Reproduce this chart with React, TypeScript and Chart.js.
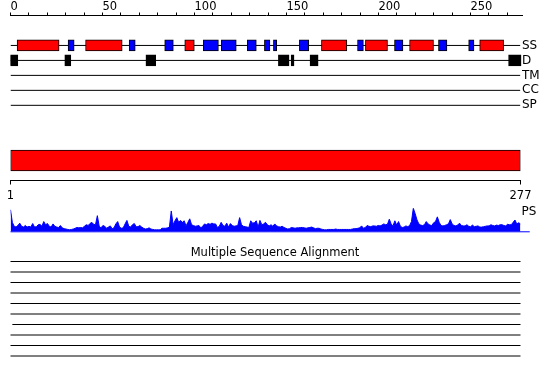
import React, { useEffect, useRef } from 'react';
import { Chart, registerables } from 'chart.js';

Chart.register(...registerables);

const FONT_FAMILY = "'DejaVu Sans', sans-serif";

// ---------------- Data ----------------
const trackNames = ['SS', 'D', 'TM', 'CC', 'SP'];
const seqLength = 277;
const topAxisMax = 278;
const topTicks = [0, 10, 20, 30, 40, 50, 60, 70, 80, 90, 100, 110, 120, 130, 140, 150, 160, 170, 180, 190, 200, 210, 220, 230, 240, 250, 260, 270];
const topLabels = [0, 50, 100, 150, 200, 250];

// secondary structure: helices (red) and strands (blue)
const helixStart = [3.6, 40.8, 94.7, 169.0, 192.9, 216.9, 255.0];
const helixEnd = [26.4, 60.7, 99.9, 182.8, 204.9, 229.9, 268.0];
const strandStart = [31.3, 64.5, 83.8, 104.8, 114.6, 128.7, 138.0, 142.9, 157.0, 188.6, 208.7, 232.6, 249.0];
const strandEnd = [34.6, 67.8, 88.5, 113.0, 122.7, 133.6, 141.0, 144.7, 162.1, 191.8, 213.3, 237.2, 251.9];
// disorder (black)
const disorderStart = [-0.3, 29.5, 73.6, 145.6, 152.5, 162.8, 270.7];
const disorderEnd = [4.0, 32.8, 78.9, 151.4, 154.1, 167.2, 277.5];

// domain bar and its ruler
const domainStart = [1];
const domainEnd = [277];
const rulerTicks = [1, 277];

// PS profile (one value per residue)
const psScores = [
  28, 12, 7, 6, 8, 11, 7, 6, 8, 6,
  7, 6, 10.5, 6, 6.5, 9, 9.5, 7, 13, 9,
  10.5, 7, 6, 10, 7, 6, 5.5, 8, 5, 4,
  3.5, 3, 2.5, 3, 3.5, 4.5, 5.5, 5, 5.5, 5,
  7, 9, 8, 10.5, 12, 9.5, 9, 20.5, 7, 5,
  8, 7, 4.5, 6, 7.5, 4, 5, 10, 13, 6,
  4.5, 5, 10, 14.5, 7, 6, 9, 10.5, 6.5, 6.5,
  8, 6, 4.5, 3.5, 4, 5, 3.5, 3, 2.5, 2.5,
  2.5, 2.5, 4.5, 4.5, 4.5, 5, 6, 26.5, 9, 14,
  18, 12, 14.5, 12, 14, 7.5, 12, 16.5, 9, 8,
  7, 7.5, 8, 5, 7, 10, 9, 10.5, 9.5, 11,
  10, 10, 5.5, 7, 12, 8, 7, 11, 6, 10.5,
  8, 7, 7.5, 8, 18, 9, 7, 6.5, 6, 5.5,
  14, 11, 11.5, 14, 6, 14.5, 9, 10, 12, 9,
  7.5, 9, 7, 10, 7.5, 6.5, 6, 7, 5.5, 4.5,
  3.5, 4, 5.5, 5, 4.5, 5, 5, 5.5, 5.5, 5,
  4.5, 5, 5.5, 6, 5, 4, 4.5, 4.5, 3.5, 3,
  2.5, 2.5, 3, 3, 3, 3, 3.5, 3, 3, 3,
  3, 3, 3, 3, 3, 3.5, 4, 4, 4.5, 5,
  7.5, 4.5, 5.5, 8, 7, 6.5, 7.5, 7.5, 7, 8,
  7.5, 8.5, 10, 9, 9.5, 16, 10, 7.5, 14, 8.5,
  13, 7, 5.5, 6, 7.5, 6.5, 8, 13, 30, 23,
  15, 10, 8.5, 8, 9, 13, 10, 8.5, 8, 11.5,
  13, 19, 12, 8, 7.5, 8, 9, 10, 15.5, 10,
  8, 7.5, 8.5, 11, 8, 7.5, 7.5, 9, 7, 6.5,
  8.5, 6.5, 7, 7.5, 6, 6, 6.5, 7, 7.5, 7.5,
  9, 8, 7.5, 8.5, 8, 9, 9, 8, 7.5, 9.5,
  9, 9, 12, 15, 10, 11.5, 10,
];
const psMax = 30;
const psLabelValue = 25;
const psBaselineX = [1, 282];

// multiple sequence alignment rows
const msaTitle = 'Multiple Sequence Alignment';
const msaStart = [1, 1, 1, 1, 1, 1, 2, 1, 1, 1];
const msaEnd = [277, 277, 277, 277, 277, 277, 277, 277, 277, 277];

// ---------------- Component ----------------
export default function App() {
  const topRef = useRef<HTMLCanvasElement>(null);
  const domRef = useRef<HTMLCanvasElement>(null);
  const psRef = useRef<HTMLCanvasElement>(null);
  const msaRef = useRef<HTMLCanvasElement>(null);

  useEffect(() => {
    Chart.defaults.font.family = FONT_FAMILY;
    Chart.defaults.color = '#000';
    const charts: Chart[] = [];
    const noPlugins = { legend: { display: false }, tooltip: { enabled: false }, title: { display: false } };

    // ---- Chart A: ruler + feature tracks ----
    const barCommon = {
      type: 'bar' as const,
      indexAxis: 'y' as const,
      grouped: false,
      borderColor: '#000',
      borderWidth: 1,
      borderSkipped: false,
      barThickness: 11,
      order: 0,
    };
    const trackLines = trackNames.map((name, i) => ({
      type: 'line' as const,
      label: name,
      data: [{ x: 0, y: i }, { x: seqLength, y: i }],
      borderColor: '#000',
      borderWidth: 1,
      pointRadius: 0,
      fill: false,
      order: 1,
    }));
    charts.push(
      new Chart(topRef.current!, {
        type: 'bar',
        data: {
          datasets: [
            ...trackLines,
            { ...barCommon, label: 'helix', backgroundColor: '#ff0000', data: helixStart.map((s, i) => ({ x: [s, helixEnd[i]], y: 0 })) },
            { ...barCommon, label: 'strand', backgroundColor: '#0000ff', data: strandStart.map((s, i) => ({ x: [s, strandEnd[i]], y: 0 })) },
            { ...barCommon, label: 'disorder', backgroundColor: '#000000', data: disorderStart.map((s, i) => ({ x: [s, disorderEnd[i]], y: 1 })) },
          ] as any,
        },
        options: {
          animation: false,
          responsive: false,
          maintainAspectRatio: false,
          events: [],
          layout: { padding: { left: 10.5, right: 0, top: 0, bottom: 7 }, autoPadding: false },
          plugins: noPlugins as any,
          scales: {
            x: {
              type: 'linear',
              position: 'top',
              offset: false,
              min: 0,
              max: topAxisMax,
              afterBuildTicks: (s: any) => { s.ticks = topTicks.map((v) => ({ value: v })); },
              afterFit: (s: any) => { s.height = 15.5; },
              ticks: {
                autoSkip: false,
                maxRotation: 0,
                minRotation: 0,
                align: 'start',
                padding: 0,
                color: '#000',
                font: { size: 11.5, lineHeight: 1 },
                callback: (v: any) => (topLabels.includes(Number(v)) ? String(v) : ''),
              },
              grid: { offset: false, drawOnChartArea: false, drawTicks: true, tickLength: 3, color: '#000', lineWidth: 1 },
              border: { display: true, color: '#000', width: 1 },
            },
            y: {
              type: 'linear',
              position: 'right',
              offset: false,
              reverse: true,
              min: -2,
              max: 4.5,
              afterBuildTicks: (s: any) => { s.ticks = trackNames.map((_, i) => ({ value: i })); },
              afterFit: (s: any) => { s.width = 28; },
              ticks: {
                autoSkip: false,
                padding: 0,
                color: '#000',
                font: { size: 12 },
                callback: (v: any) => trackNames[Number(v)] ?? '',
              },
              grid: { offset: false, display: false, drawTicks: false },
              border: { display: false },
            },
          } as any,
        },
      })
    );

    // ---- Chart B: domain bar + ruler 1..277 ----
    charts.push(
      new Chart(domRef.current!, {
        type: 'bar',
        data: {
          datasets: [
            {
              type: 'bar',
              label: 'domain',
              indexAxis: 'y',
              data: domainStart.map((s, i) => ({ x: [s, domainEnd[i]], y: 0 })),
              backgroundColor: '#ff0000',
              borderColor: '#000',
              borderWidth: 1,
              borderSkipped: false,
              barThickness: 21,
            },
          ] as any,
        },
        options: {
          animation: false,
          responsive: false,
          maintainAspectRatio: false,
          events: [],
          layout: { padding: { left: 10.5, right: 29.5, top: 0.5, bottom: 0 }, autoPadding: false },
          plugins: noPlugins as any,
          scales: {
            x: {
              type: 'linear',
              position: 'bottom',
              offset: false,
              min: 1,
              max: seqLength,
              afterBuildTicks: (s: any) => { s.ticks = rulerTicks.map((v) => ({ value: v })); },
              afterFit: (s: any) => { s.height = 24.5; },
              ticks: { autoSkip: false, maxRotation: 0, minRotation: 0, padding: 4.5, color: '#000', font: { size: 11.5 } },
              grid: { offset: false, drawOnChartArea: false, drawTicks: true, tickLength: 4, color: '#000', lineWidth: 1 },
              border: { display: true, color: '#000', width: 1 },
            },
            y: { type: 'linear', display: false, offset: false, min: -1, max: 1 },
          } as any,
        },
      })
    );

    // ---- Chart C: PS profile ----
    charts.push(
      new Chart(psRef.current!, {
        type: 'line',
        data: {
          datasets: [
            {
              label: 'PS',
              data: psScores.map((v, i) => ({ x: i + 1, y: v })),
              borderColor: '#0000ff',
              backgroundColor: '#0000ff',
              borderWidth: 1,
              pointRadius: 0,
              fill: 'origin',
              tension: 0,
            },
            {
              label: 'baseline',
              data: psBaselineX.map((x) => ({ x, y: 0 })),
              borderColor: '#0000ff',
              borderWidth: 1,
              pointRadius: 0,
              fill: false,
              clip: false,
            },
          ] as any,
        },
        options: {
          animation: false,
          responsive: false,
          maintainAspectRatio: false,
          events: [],
          layout: { padding: { left: 10.5, right: 0, top: 5.5, bottom: 4.5 }, autoPadding: false },
          plugins: noPlugins as any,
          scales: {
            x: { type: 'linear', display: false, offset: false, min: 1, max: seqLength },
            y: {
              type: 'linear',
              position: 'right',
              offset: false,
              min: 0,
              max: psMax,
              afterBuildTicks: (s: any) => { s.ticks = [{ value: psLabelValue }]; },
              afterFit: (s: any) => { s.width = 29.5; },
              ticks: { autoSkip: false, padding: 1, color: '#000', font: { size: 12 }, callback: () => 'PS' },
              grid: { display: false, drawTicks: false },
              border: { display: false },
            },
          } as any,
        },
      })
    );

    // ---- Chart D: multiple sequence alignment ----
    charts.push(
      new Chart(msaRef.current!, {
        type: 'line',
        data: {
          datasets: msaStart.map((s, i) => ({
            label: `seq${i + 1}`,
            data: [{ x: s, y: i }, { x: msaEnd[i], y: i }],
            borderColor: '#000',
            borderWidth: 1,
            pointRadius: 0,
            fill: false,
            clip: false,
          })) as any,
        },
        options: {
          animation: false,
          responsive: false,
          maintainAspectRatio: false,
          events: [],
          layout: { padding: { left: 0, right: 0, top: 0, bottom: 13.5 }, autoPadding: false },
          plugins: {
            legend: { display: false },
            tooltip: { enabled: false },
            title: {
              display: true,
              text: msaTitle,
              color: '#000',
              font: { size: 11.5, weight: 'normal' },
              padding: { top: 6.4, bottom: 1.3 },
            },
          } as any,
          scales: {
            x: { type: 'linear', display: false, offset: false, min: 1, max: seqLength },
            y: {
              type: 'linear',
              position: 'left',
              offset: false,
              reverse: true,
              min: 0,
              max: 10,
              afterFit: (s: any) => { s.width = 10.5; },
              ticks: { display: false },
              grid: { display: false, drawTicks: false },
              border: { display: false },
            },
            yRight: {
              type: 'linear',
              position: 'right',
              display: true,
              afterFit: (s: any) => { s.width = 29.5; },
              ticks: { display: false },
              grid: { display: false, drawTicks: false },
              border: { display: false },
            },
          } as any,
        },
      })
    );

    return () => {
      charts.forEach((c) => c.destroy());
    };
  }, []);

  const cv = (top: number, height: number): React.CSSProperties => ({
    position: 'absolute',
    left: 0,
    top,
    width: 550,
    height,
    display: 'block',
  });

  return (
    <div style={{ position: 'absolute', left: 0, top: 0, width: 550, height: 380, background: '#fff', overflow: 'hidden' }}>
      <canvas ref={topRef} width={550} height={120} style={cv(0, 120)} />
      <canvas ref={domRef} width={550} height={65} style={cv(140, 65)} />
      <canvas ref={psRef} width={550} height={40} style={cv(200, 40)} />
      <canvas ref={msaRef} width={550} height={140} style={cv(240, 140)} />
    </div>
  );
}
